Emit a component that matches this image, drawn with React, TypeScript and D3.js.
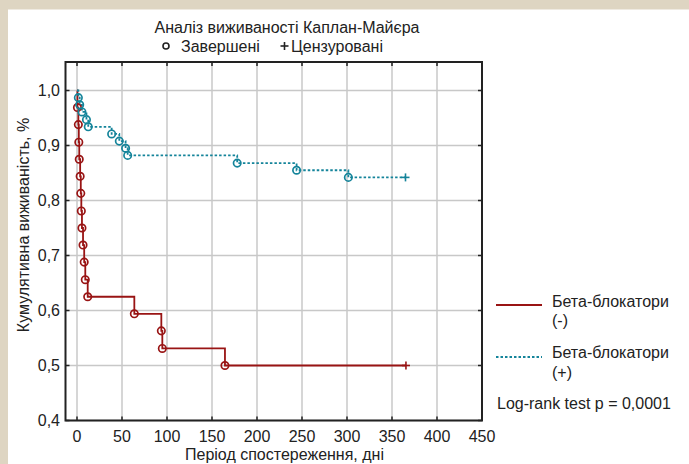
import React from "react";
import * as d3 from "d3";

const xTicks = [0, 50, 100, 150, 200, 250, 300, 350, 400, 450];
const yTicks = [0.4, 0.5, 0.6, 0.7, 0.8, 0.9, 1.0];
const yTickLabels = ["0,4", "0,5", "0,6", "0,7", "0,8", "0,9", "1,0"];

// Beta-blockers (-)
const redTimes = [0.5, 1.5, 2, 2.5, 3.5, 4.2, 4.8, 5.5, 6.7, 8, 9.2, 11.9, 63.7, 93.7, 94.8, 164.4];
const redValues = [0.969, 0.938, 0.906, 0.875, 0.844, 0.813, 0.781, 0.75, 0.719, 0.688, 0.656, 0.625, 0.594, 0.563, 0.531, 0.5];
const redCensorTime = 365.5;

// Beta-blockers (+)
const tealTimes = [1.5, 3, 5.5, 10.5, 12.5, 38.5, 47, 54, 56.3, 178, 244, 301.5];
const tealValues = [0.987, 0.974, 0.961, 0.947, 0.934, 0.921, 0.908, 0.895, 0.882, 0.868, 0.855, 0.842];
const tealCensorTime = 365;

const RED = "#991414";
const TEAL = "#14849a";
const FONT = "'Liberation Sans', Arial, sans-serif";

export default function App() {
  const W = 689, H = 464;
  const left = 65.5, right = 482, top = 62, bottom = 420.5;
  const x = d3.scaleLinear().domain([0, 450]).range([77, 482]);
  const y = d3.scaleLinear().domain([0.4, 1.0]).range([420.5, 90.5]);

  const stepPath = (times: number[], values: number[], end: number) => {
    const pts: [number, number][] = [[0, 1.0]];
    let prev = 1.0;
    times.forEach((t, i) => {
      pts.push([t, prev]);
      pts.push([t, values[i]]);
      prev = values[i];
    });
    pts.push([end, prev]);
    const line = d3.line<[number, number]>().x((d) => x(d[0])).y((d) => y(d[1]));
    return line(pts) || "";
  };

  const fs = 16;
  const plus = (cx: number, cy: number, color: string) => (
    <g stroke={color} strokeWidth={1.6}>
      <line x1={cx - 4} x2={cx + 4} y1={cy} y2={cy} />
      <line x1={cx} x2={cx} y1={cy - 4} y2={cy + 4} />
    </g>
  );

  return (
    <svg width={W} height={H} style={{ position: "absolute", left: 0, top: 0 }} fontFamily={FONT}>
      <rect x={0} y={0} width={W} height={H} fill="#ded5c2" />
      <rect x={8} y={9.5} width={W - 8} height={H - 9.5} fill="#ffffff" />

      {/* title */}
      <text x={287} y={33} textAnchor="middle" fontSize={fs} fill="#222">Аналіз виживаності Каплан-Майєра</text>
      <g fontSize={fs} fill="#222">
        <circle cx={166} cy={46} r={3} fill="none" stroke="#222" strokeWidth={1.6} />
        <text x={181} y={51.5}>Завершені</text>
        {plus(284.5, 46, "#222")}
        <text x={291} y={51.5}>Цензуровані</text>
      </g>

      {/* grid */}
      <g stroke="#c8c8c8" strokeWidth={1.5}>
        {xTicks.map((t) => (
          <line key={"gx" + t} x1={x(t)} x2={x(t)} y1={top} y2={bottom} />
        ))}
        {yTicks.map((t) => (
          <line key={"gy" + t} x1={left} x2={right} y1={y(t)} y2={y(t)} />
        ))}
      </g>

      {/* ticks */}
      <g stroke="#222" strokeWidth={1.5}>
        {xTicks.map((t) => (
          <g key={"tx" + t}>
            <line x1={x(t)} x2={x(t)} y1={bottom} y2={bottom - 4} />
            <line x1={x(t)} x2={x(t)} y1={top} y2={top + 4} />
          </g>
        ))}
        {yTicks.map((t) => (
          <g key={"ty" + t}>
            <line x1={left} x2={left + 4} y1={y(t)} y2={y(t)} />
            <line x1={right} x2={right - 4} y1={y(t)} y2={y(t)} />
          </g>
        ))}
      </g>

      {/* curves */}
      <path d={stepPath(redTimes, redValues, redCensorTime)} fill="none" stroke={RED} strokeWidth={1.8} />
      <path d={stepPath(tealTimes, tealValues, tealCensorTime)} fill="none" stroke={TEAL} strokeWidth={1.8} strokeDasharray="2.5,2" />

      {redTimes.map((t, i) => (
        <circle key={"rc" + i} cx={x(t)} cy={y(redValues[i])} r={3.7} fill="none" stroke={RED} strokeWidth={1.7} />
      ))}
      {tealTimes.map((t, i) => (
        <circle key={"tc" + i} cx={x(t)} cy={y(tealValues[i])} r={3.7} fill="none" stroke={TEAL} strokeWidth={1.7} />
      ))}
      {plus(x(redCensorTime), y(redValues[redValues.length - 1]), RED)}
      {plus(x(tealCensorTime), y(tealValues[tealValues.length - 1]), TEAL)}

      {/* frame */}
      <rect x={left} y={top} width={right - left} height={bottom - top} fill="none" stroke="#222" strokeWidth={2} />

      {/* tick labels */}
      <g fontSize={fs} fill="#222">
        {xTicks.map((t) => (
          <text key={"lx" + t} x={x(t)} y={442} textAnchor="middle">{t}</text>
        ))}
        {yTicks.map((t, i) => (
          <text key={"ly" + t} x={60} y={y(t) + 5.8} textAnchor="end">{yTickLabels[i]}</text>
        ))}
      </g>

      {/* axis titles */}
      <text x={284.5} y={459.5} textAnchor="middle" fontSize={fs} fill="#222">Період спостереження, дні</text>
      <text transform="translate(28.5,225) rotate(-90)" textAnchor="middle" fontSize={fs} fill="#222">Кумулятивна виживаність, %</text>

      {/* legend */}
      <line x1={496} x2={542} y1={305} y2={305} stroke={RED} strokeWidth={1.8} />
      <text x={552} y={306.5} fontSize={fs} fill="#222">Бета-блокатори</text>
      <text x={552} y={325.5} fontSize={fs} fill="#222">(-)</text>
      <line x1={496} x2={542} y1={357} y2={357} stroke={TEAL} strokeWidth={1.8} strokeDasharray="2.5,2" />
      <text x={552} y={357.5} fontSize={fs} fill="#222">Бета-блокатори</text>
      <text x={552} y={377.5} fontSize={fs} fill="#222">(+)</text>
      <text x={497} y={409} fontSize={fs} fill="#222">Log-rank test p = 0,0001</text>
    </svg>
  );
}
